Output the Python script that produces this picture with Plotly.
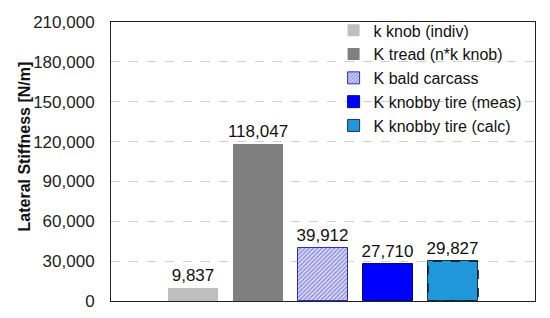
import plotly.graph_objects as go

names = ["k knob (indiv)", "K tread (n*k knob)", "K bald carcass",
         "K knobby tire (meas)", "K knobby tire (calc)"]
values = [9837, 118047, 39912, 27710, 29827]
labels = ["9,837", "118,047", "39,912", "27,710", "29,827"]

fills = ["#bfbfbf", "#7f7f7f", "#c8c8f0", "#0000ff", "#1f97d9"]
lines = ["#bfbfbf", "#7f7f7f", "#2b2bd6", "#0a0a80", "#1f3550"]

font = "Liberation Sans, Arial, sans-serif"
bw = 0.77

fig = go.Figure()
for i, (n, v, t) in enumerate(zip(names, values, labels)):
    marker = dict(color=fills[i], line=dict(color=lines[i], width=1 if i >= 2 else 0))
    if i == 2:
        marker["pattern"] = dict(shape="/", fgcolor="#2f2fd0", bgcolor="#e0e0f8",
                                 size=3, solidity=0.45)
    fig.add_trace(go.Bar(x=[i], y=[v], name=n, text=[t], textposition="outside",
                         textfont=dict(size=17, color="#111"), cliponaxis=False,
                         constraintext="none", width=bw, marker=marker))

# dashed outline for the calculated bar
fig.add_shape(type="rect", xref="x", yref="y", x0=4 - bw / 2, x1=4 + bw / 2,
              y0=0, y1=values[4], line=dict(color="#0d1b2a", width=1.5, dash="dash"))

# y title placed like the original (a bit above centre)
fig.add_annotation(text="<b>Lateral Stiffness [N/m]</b>", textangle=-90,
                   xref="paper", yref="paper", x=-0.204, y=0.552,
                   xanchor="center", yanchor="middle",
                   showarrow=False, font=dict(size=16, color="#111"))

# page body has an 8px margin, so the figure is 8px smaller than the window
fig.update_layout(
    width=542, height=310,
    margin=dict(l=103, r=15, t=14, b=17, autoexpand=False),
    paper_bgcolor="white", plot_bgcolor="white",
    font=dict(family=font, size=17, color="#222"),
    showlegend=True,
    legend=dict(x=0.525, y=1.031, xanchor="left", yanchor="top",
                bgcolor="rgba(0,0,0,0)", font=dict(size=16, color="#111"),
                itemwidth=30, tracegroupgap=0),
    bargap=0,
)
fig.update_xaxes(range=[-1.26, 5.26], showticklabels=False, showgrid=False,
                 zeroline=False, showline=True, linecolor="#222", linewidth=1,
                 mirror=True, ticks="")
fig.update_yaxes(range=[0, 210000], dtick=30000, tickformat=",d",
                 showgrid=True, gridcolor="#cfcfcf", griddash="dash", gridwidth=1,
                 zeroline=False, showline=True, linecolor="#222", linewidth=1,
                 mirror=True, ticks="", tickfont=dict(size=17, color="#222"),
                 ticklabelstandoff=12, automargin=False)

fig.write_html("out.html")
